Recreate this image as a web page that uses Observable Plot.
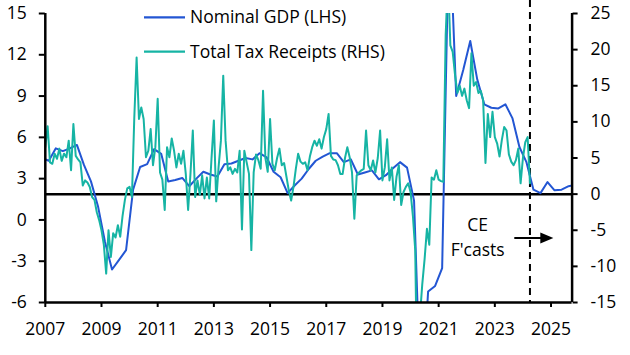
<!DOCTYPE html>
<html><head><meta charset="utf-8">
<script src="https://cdn.jsdelivr.net/npm/d3@7"></script>
<script src="https://cdn.jsdelivr.net/npm/@observablehq/plot@0.6"></script>
<style>
body{margin:0;background:#fff;}
#chart{position:relative;width:630px;height:355px;}
</style></head><body><div id="chart"></div>
<script>
// Nominal GDP, % y/y (LHS), quarterly from 2006Q4 (plotted mid-quarter)
const gdpStart = 2006.875;
const gdpValues = [
  4.5,
  4.3, 5.2, 5.0, 5.2,
  5.45, 4.0, 2.8, 1.0,
  -1.6, -3.6, -2.9, -2.2,
  2.2, 3.85, 4.05, 5.15,
  4.8, 2.8, 2.9, 3.05,
  2.45, 3.0, 3.5, 3.3,
  3.15, 4.05, 4.1, 4.3,
  4.5, 4.4, 4.85, 4.55,
  3.5, 3.1, 1.95, 2.5,
  3.0, 3.7, 4.3, 4.6,
  4.85, 4.85, 4.2, 4.4,
  3.3, 3.45, 3.6, 2.95,
  3.25, 3.75, 4.2, 3.8,
  1.4, -14, -5.2, -4.8,
  -3.5, 22, 9.0, 10.9,
  13.0, 10.2, 8.4, 8.15,
  8.1, 8.4, 7.4, 5.3,
  4.2, 2.2, 1.95, 2.75,
  2.15, 2.2, 2.45, 2.55
];
// Total tax receipts, % y/y (RHS), monthly from Jan 2007
const taxStart = 2007;
const taxValues = [
  6.5, 9.4, 4.4, 4.2, 5.6, 4.9, 6.3, 4.6, 5.6, 5.1, 7.4, 3.3,
  9.7, 5.3, 4.8, 4.4, 1.2, 1.9, 1.6, 1.0, -0.4, -0.8, -2.5, -3.6,
  -5.0, -7.0, -11.0, -5.0, -8.7, -5.4, -6.0, -4.3, -5.9, -3.0, -0.8, 0.8,
  1.0, -0.4, 10.5, 18.9, 10.4, 12.0, 10.4, 5.1, 6.0, 9.0, 4.0, 6.5,
  13.2, 3.0, 2.0, -2.2, 6.5, 5.1, 7.7, 6.0, 3.7, 5.6, 4.2, 6.0,
  2.8, -2.2, 2.8, 8.8, -0.4, 1.9, -0.1, 2.6, -0.6, 2.3, -0.6, 5.0,
  10.2, -1.0, 3.7, 7.4, 16.4, 7.4, 3.3, 3.7, 2.8, 3.5, 3.0, 6.0,
  -4.9, 6.0, 4.4, 2.8, -7.75, 3.0, 5.5, 4.7, 3.5, 14.3, 5.0, 3.1,
  10.4, 4.2, 3.3, 5.0, 6.3, 4.0, 4.3, 2.4, 0.5, -0.9, 1.0, 3.5,
  5.6, 4.5, 4.2, 4.4, 3.3, 5.2, 6.5, 7.4, 6.7, 7.6, 6.3, 7.9,
  9.0, 11.1, 5.3, 4.8, 4.7, 4.0, 2.8, 2.8, 5.0, 6.5, 5.1, 3.0,
  -3.4, 2.6, 3.0, 3.3, 3.5, 8.8, 4.0, 3.3, 4.65, 3.0, 5.0, 8.8,
  1.9, 3.7, 7.6, 1.9, 3.7, -0.8, 2.4, 4.0, -1.5, 0.3, 1.0, 1.5,
  0.3, -3.0, -7.75, -30, -17, -12.5, -9.0, -4.8, -7.0, 2.3, 2.0, 3.3,
  2.0, 1.8, 1.7, 22, 30, 20.6, 19.7, 16.5, 14.0, 15.0, 13.6, 14.6,
  13.0, 11.9, 19.5, 15.0, 15.5, 14.0, 14.3, 13.0, 4.3, 11.1, 7.9, 11.4,
  7.9, 7.0, 5.2, 7.5, 9.3, 8.8, 5.5, 4.5, 4.0, 4.7, 6.3, 1.5,
  5.0, 7.2, 7.9, 1.5
];
const xTicks = d3.range(2007, 2026, 2);
const leftTicks = [-6, -3, 0, 3, 6, 9, 12, 15];
const rightTicks = [-15, -10, -5, 0, 5, 10, 15, 20, 25];
const leftDomain = [-6, 15];
const rightDomain = [-15, 25];
const xDomain = [2007, 2025.75];
const forecastStart = 2024.25;
const seriesNames = ["Nominal GDP (LHS)", "Total Tax Receipts (RHS)"];
const noteLines = ["CE", "F'casts"];

const blue = "#2356d3";
const teal = "#16b4a4";
const font = "'Open Sans', 'Noto Sans', sans-serif";
const fs = 17.5;

const k = (leftDomain[1] - leftDomain[0]) / (rightDomain[1] - rightDomain[0]);
const toLeft = r => leftDomain[0] + (r - rightDomain[0]) * k;
const fromLeft = l => rightDomain[0] + (l - leftDomain[0]) / k;

const gdp = gdpValues.map((v, i) => ({t: gdpStart + i * 0.25, v}));
const tax = taxValues.map((v, i) => ({t: taxStart + i / 12, v: toLeft(v)}));

const plot = Plot.plot({
  width: 630, height: 355,
  marginLeft: 44.8, marginRight: 58.4, marginTop: 13, marginBottom: 53,
  style: {fontFamily: font, fontSize: fs + "px", color: "#000", background: "#fff", overflow: "visible"},
  x: {domain: xDomain},
  y: {domain: leftDomain},
  marks: [
    Plot.ruleX([forecastStart], {stroke: "#000", strokeWidth: 2, strokeDasharray: "7,5", insetTop: -13}),
    Plot.ruleY([toLeft(0)], {stroke: "#000", strokeWidth: 2.5}),
    Plot.lineY(gdp, {x: "t", y: "v", stroke: blue, strokeWidth: 2, clip: true}),
    Plot.lineY(tax, {x: "t", y: "v", stroke: teal, strokeWidth: 2, clip: true}),
    Plot.axisX({ticks: xTicks, tickFormat: d => String(d), tickSize: 5, tickPadding: 15, strokeWidth: 2, label: null, fontSize: fs}),
    Plot.axisY({anchor: "left", ticks: leftTicks, tickFormat: d => String(d), tickSize: 6, tickPadding: 12.5, strokeWidth: 2, label: null, fontSize: fs}),
    Plot.axisY({anchor: "right", ticks: rightTicks.map(toLeft), tickFormat: d => String(Math.round(fromLeft(d))), tickSize: 5, tickPadding: 13.5, strokeWidth: 2, label: null, fontSize: fs, textAnchor: "start"}),
    Plot.ruleX([xDomain[0]], {stroke: "#000", strokeWidth: 2.5}),
    Plot.ruleX([xDomain[1]], {stroke: "#000", strokeWidth: 2.5}),
    Plot.ruleY([leftDomain[0]], {stroke: "#000", strokeWidth: 2.5}),
    Plot.text([noteLines[0]], {x: 2022.39, y: -0.4, text: d => d, fontSize: fs, fill: "#000"}),
    Plot.text([noteLines[1]], {x: 2022.39, y: -2.18, text: d => d, fontSize: fs, fill: "#000"})
  ]
});

// Forecast arrow and legend
const sx = plot.scale("x"), sy = plot.scale("y");
const svg = d3.select(plot);
const ax1 = sx.apply(2023.71), ax2 = sx.apply(2025.1), ay = sy.apply(-1.35);
svg.append("line").attr("x1", ax1).attr("x2", ax2 - 10).attr("y1", ay).attr("y2", ay)
  .attr("stroke", "#000").attr("stroke-width", 2);
svg.append("path").attr("d", `M${ax2},${ay}L${ax2 - 13},${ay - 5.5}L${ax2 - 13},${ay + 5.5}Z`).attr("fill", "#000");

const leg = svg.append("g").attr("font-family", font).attr("font-size", fs).attr("text-anchor", "start");
[[seriesNames[0], blue, 17.3], [seriesNames[1], teal, 51.7]].forEach(([name, c, y]) => {
  leg.append("line").attr("x1", 144).attr("x2", 185).attr("y1", y).attr("y2", y).attr("stroke", c).attr("stroke-width", 2.2);
  leg.append("text").attr("x", 190).attr("y", y).attr("dy", "0.35em").attr("fill", "#000").text(name);
});

document.getElementById("chart").appendChild(plot);
</script>
</body></html>
